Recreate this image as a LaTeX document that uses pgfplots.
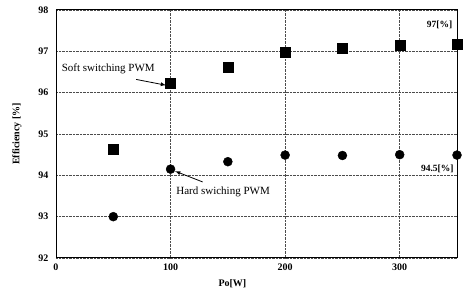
\documentclass[border=0pt]{standalone}
\usepackage{pgfplots}
\pgfplotsset{compat=1.18}
\usepackage{fontspec}
\setmainfont{Liberation Serif}
\begin{document}
\begin{tikzpicture}[x=1pt,y=1pt]
\begin{axis}[
  scale only axis,
  width=401pt, height=248pt,
  xmin=0, xmax=350, ymin=92, ymax=98,
  xtick={0,100,200,300}, ytick={92,93,94,95,96,97,98},
  grid=major,
  grid style={densely dotted, black!70, line width=0.5pt},
  axis line style={line width=1pt},
  tick style={draw=none},
  /pgf/number format/assume math mode=true,
  ticklabel style={font=\fontsize{10}{11}\selectfont\bfseries},
  yticklabel style={xshift=-4pt},
  xticklabel style={yshift=-2pt},
  xlabel={\textbf{Po[W]}},
  ylabel={\textbf{Efficiency [\%]}},
  xlabel style={font=\fontsize{10}{11}\selectfont, at={(axis description cs:0.44,0)}, anchor=north, yshift=-18pt},
  ylabel style={font=\fontsize{10}{11}\selectfont, yshift=10pt},
  clip=false,
]
\addplot[only marks, mark=square*, mark size=5pt, black] coordinates {
(50,94.63) (100,96.22) (150,96.62) (200,96.97) (250,97.07) (300,97.15) (350,97.17)};
\addplot[only marks, mark=*, mark size=4.5pt, black] coordinates {
(50,93.0) (100,94.15) (150,94.33) (200,94.49) (250,94.48) (300,94.5) (350,94.49)};
\node[font=\fontsize{11}{12}\selectfont, anchor=west, fill=white, inner sep=1pt] at (axis cs:4,96.57) {Soft switching PWM};
\draw[-latex, line width=0.8pt] (axis cs:70,96.32) -- (axis cs:96,96.18);
\node[font=\fontsize{9.5}{10}\selectfont\bfseries, anchor=east] at (axis cs:349,97.65) {97[\%]};
\node[font=\fontsize{11}{12}\selectfont, anchor=west, fill=white, inner sep=1pt] at (axis cs:104,93.6) {Hard swiching PWM};
\draw[-latex, line width=0.8pt] (axis cs:128,93.84) -- (axis cs:104,94.1);
\node[font=\fontsize{9.5}{10}\selectfont\bfseries, anchor=east, fill=white, inner sep=1pt] at (axis cs:348,94.15) {94.5[\%]};
\end{axis}
\useasboundingbox (current axis.south west) ++(-56pt,-32pt) rectangle ([xshift=6pt,yshift=10pt]current axis.north east);
\end{tikzpicture}
\end{document}
